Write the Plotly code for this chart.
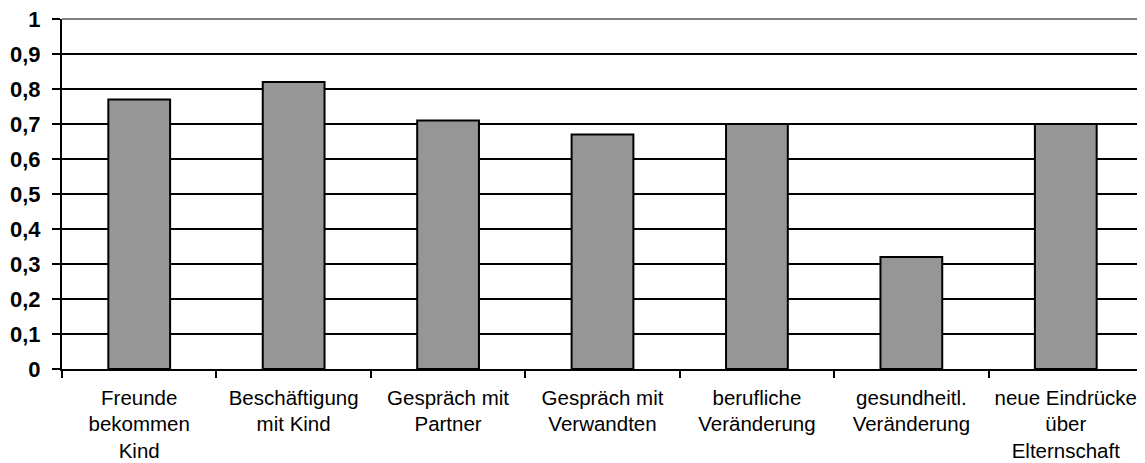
import plotly.graph_objects as go

categories = ["Freunde<br>bekommen<br>Kind", "Beschäftigung<br>mit Kind", "Gespräch mit<br>Partner",
              "Gespräch mit<br>Verwandten", "berufliche<br>Veränderung", "gesundheitl.<br>Veränderung",
              "neue Eindrücke<br>über<br>Elternschaft"]
values = [0.77, 0.82, 0.71, 0.67, 0.70, 0.32, 0.70]
y_tickvals = [0, 0.1, 0.2, 0.3, 0.4, 0.5, 0.6, 0.7, 0.8, 0.9, 1]
y_ticktext = ["0", "0,1", "0,2", "0,3", "0,4", "0,5", "0,6", "0,7", "0,8", "0,9", "1"]

fig = go.Figure()
fig.add_trace(go.Bar(
    x=categories, y=values,
    marker=dict(color="#969696", line=dict(color="black", width=2)),
    width=0.4,
))

fig.update_layout(
    width=1137, height=455,
    margin=dict(l=54, r=2, t=11, b=94),
    plot_bgcolor="white", paper_bgcolor="white",
    showlegend=False,
    font=dict(family="Liberation Sans, Arial", color="black", size=20.5),
    xaxis=dict(
        type="category", tickson="boundaries", ticks="outside", ticklen=7, tickwidth=2,
        tickcolor="black", showline=True, linecolor="black", linewidth=2,
        showgrid=False, tickfont=dict(size=20.5, color="black"), tickangle=0,
        automargin=False, ticklabelstandoff=9, ticklabeloverflow="allow",
    ),
    yaxis=dict(
        range=[0, 1], tickvals=y_tickvals, ticktext=y_ticktext,
        ticks="outside", ticklen=8, tickwidth=2, tickcolor="black",
        showline=True, linecolor="black", linewidth=2,
        showgrid=True, gridcolor="black", gridwidth=2, zeroline=False,
        tickfont=dict(size=22, color="black", weight="bold"),
        ticklabelstandoff=7, automargin=False, ticklabeloverflow="allow",
    ),
    shapes=[
        dict(type="line", xref="paper", yref="paper", x0=0, x1=1, y0=1, y1=1,
             line=dict(color="#808080", width=2)),
        dict(type="line", xref="paper", yref="paper", x0=1, x1=1, y0=0, y1=1,
             line=dict(color="#808080", width=2)),
    ],
)

fig.write_html("out.html")
